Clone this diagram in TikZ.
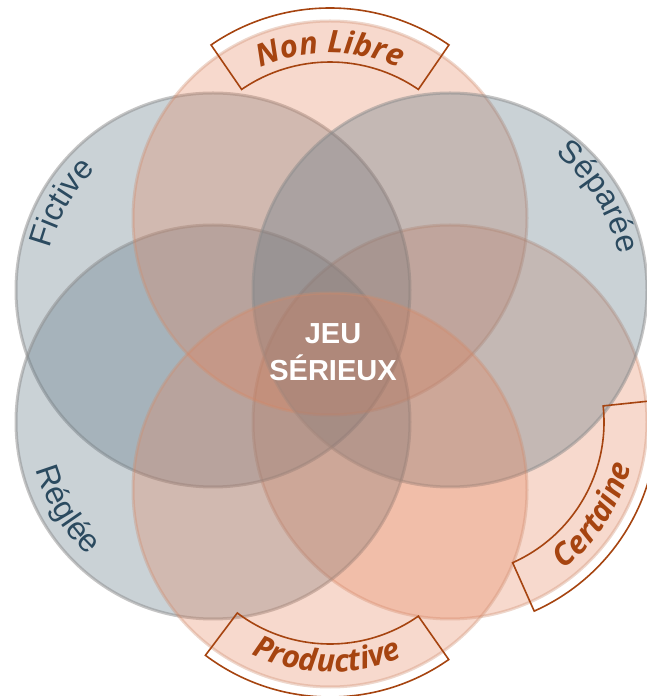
\documentclass[tikz,border=0pt]{standalone}
\usepackage{fontspec}
\setmainfont{Liberation Sans}
\newfontfamily\bannerfont{Open Sans}
\usetikzlibrary{calc,decorations.text}
\definecolor{bluefill}{RGB}{93,117,131}
\definecolor{orangefill}{RGB}{228,128,88}
\definecolor{blueline}{RGB}{140,140,140}
\definecolor{orangeline}{RGB}{205,140,110}
\definecolor{rust}{RGB}{166,68,16}
\definecolor{slate}{RGB}{43,74,95}
\tikzset{
  bluecircle/.style={fill=bluefill,fill opacity=0.33,draw=blueline,draw opacity=0.5,line width=3pt},
  orangecircle/.style={fill=orangefill,fill opacity=0.3,draw=orangeline,draw opacity=0.35,line width=3pt},
  banner/.style={draw=rust,line width=1.6pt},
  bluelabel/.style={decorate,decoration={text along path,text align=center,
      text={|\fontsize{32}{32}\selectfont\color{slate}|#1}}},
  bannerlabel/.style={decorate,decoration={text along path,text align=center,
      text={|\bannerfont\bfseries\itshape\fontsize{31}{31}\selectfont\color{rust}|#1}}},
  centretext/.style={text=white,font=\bfseries\fontsize{29}{37}\selectfont,align=center}
}
\begin{document}
\begin{tikzpicture}[x=1pt,y=1pt]
    \clip (0,0) rectangle (647,696);
    %% centres
    \coordinate (nonlibre) at (330,478);
    \coordinate (fictive) at (213,406);
    \coordinate (separee) at (450,406);
    \coordinate (reglee) at (213,274);
    \coordinate (certaine) at (450,274);
    \coordinate (productive) at (330,206);
    %% circles
    \draw[orangecircle] (certaine) circle (197pt);
    \draw[bluecircle] (fictive) circle (197pt);
    \draw[bluecircle] (reglee) circle (197pt);
    \draw[orangecircle] (nonlibre) circle (197pt);
    \draw[bluecircle] (separee) circle (197pt);
    \draw[orangecircle] (productive) circle (197pt);
    %% banners
    \draw[banner] ($(nonlibre)+(124.5:210pt)$) arc[start angle=124.5,end angle=55.5,radius=210pt]
        -- ($(nonlibre)+(55.5:156pt)$) arc[start angle=55.5,end angle=124.5,radius=156pt] -- cycle;
    \draw[banner] ($(certaine)+(-66:207pt)$) arc[start angle=-66,end angle=6,radius=207pt]
        -- ($(certaine)+(6:154pt)$) arc[start angle=6,end angle=-66,radius=154pt] -- cycle;
    \draw[banner] ($(productive)+(-127:207pt)$) arc[start angle=-127,end angle=-55,radius=207pt]
        -- ($(productive)+(-55:154pt)$) arc[start angle=-55,end angle=-127,radius=154pt] -- cycle;
    %% labels
    \path[bannerlabel=Non Libre] ($(nonlibre)+(124.5:165pt)$) arc[start angle=124.5,end angle=55.5,radius=165pt];
    \path[bannerlabel=Certaine] ($(certaine)+(-69:186pt)$) arc[start angle=-69,end angle=3,radius=186pt];
    \path[bannerlabel=Productive] ($(productive)+(-127:182pt)$) arc[start angle=-127,end angle=-55,radius=182pt];
    \path[bluelabel=Fictive] ($(fictive)+(185:168pt)$) arc[start angle=185,end angle=115,radius=168pt];
    \path[bluelabel=Séparée] ($(separee)+(67:172pt)$) arc[start angle=67,end angle=-3,radius=172pt];
    \path[bluelabel=Réglée] ($(reglee)+(176:183pt)$) arc[start angle=176,end angle=246,radius=183pt];
    \node[centretext] (jeu) at (333,344) {JEU\\SÉRIEUX};
\end{tikzpicture}
\end{document}
